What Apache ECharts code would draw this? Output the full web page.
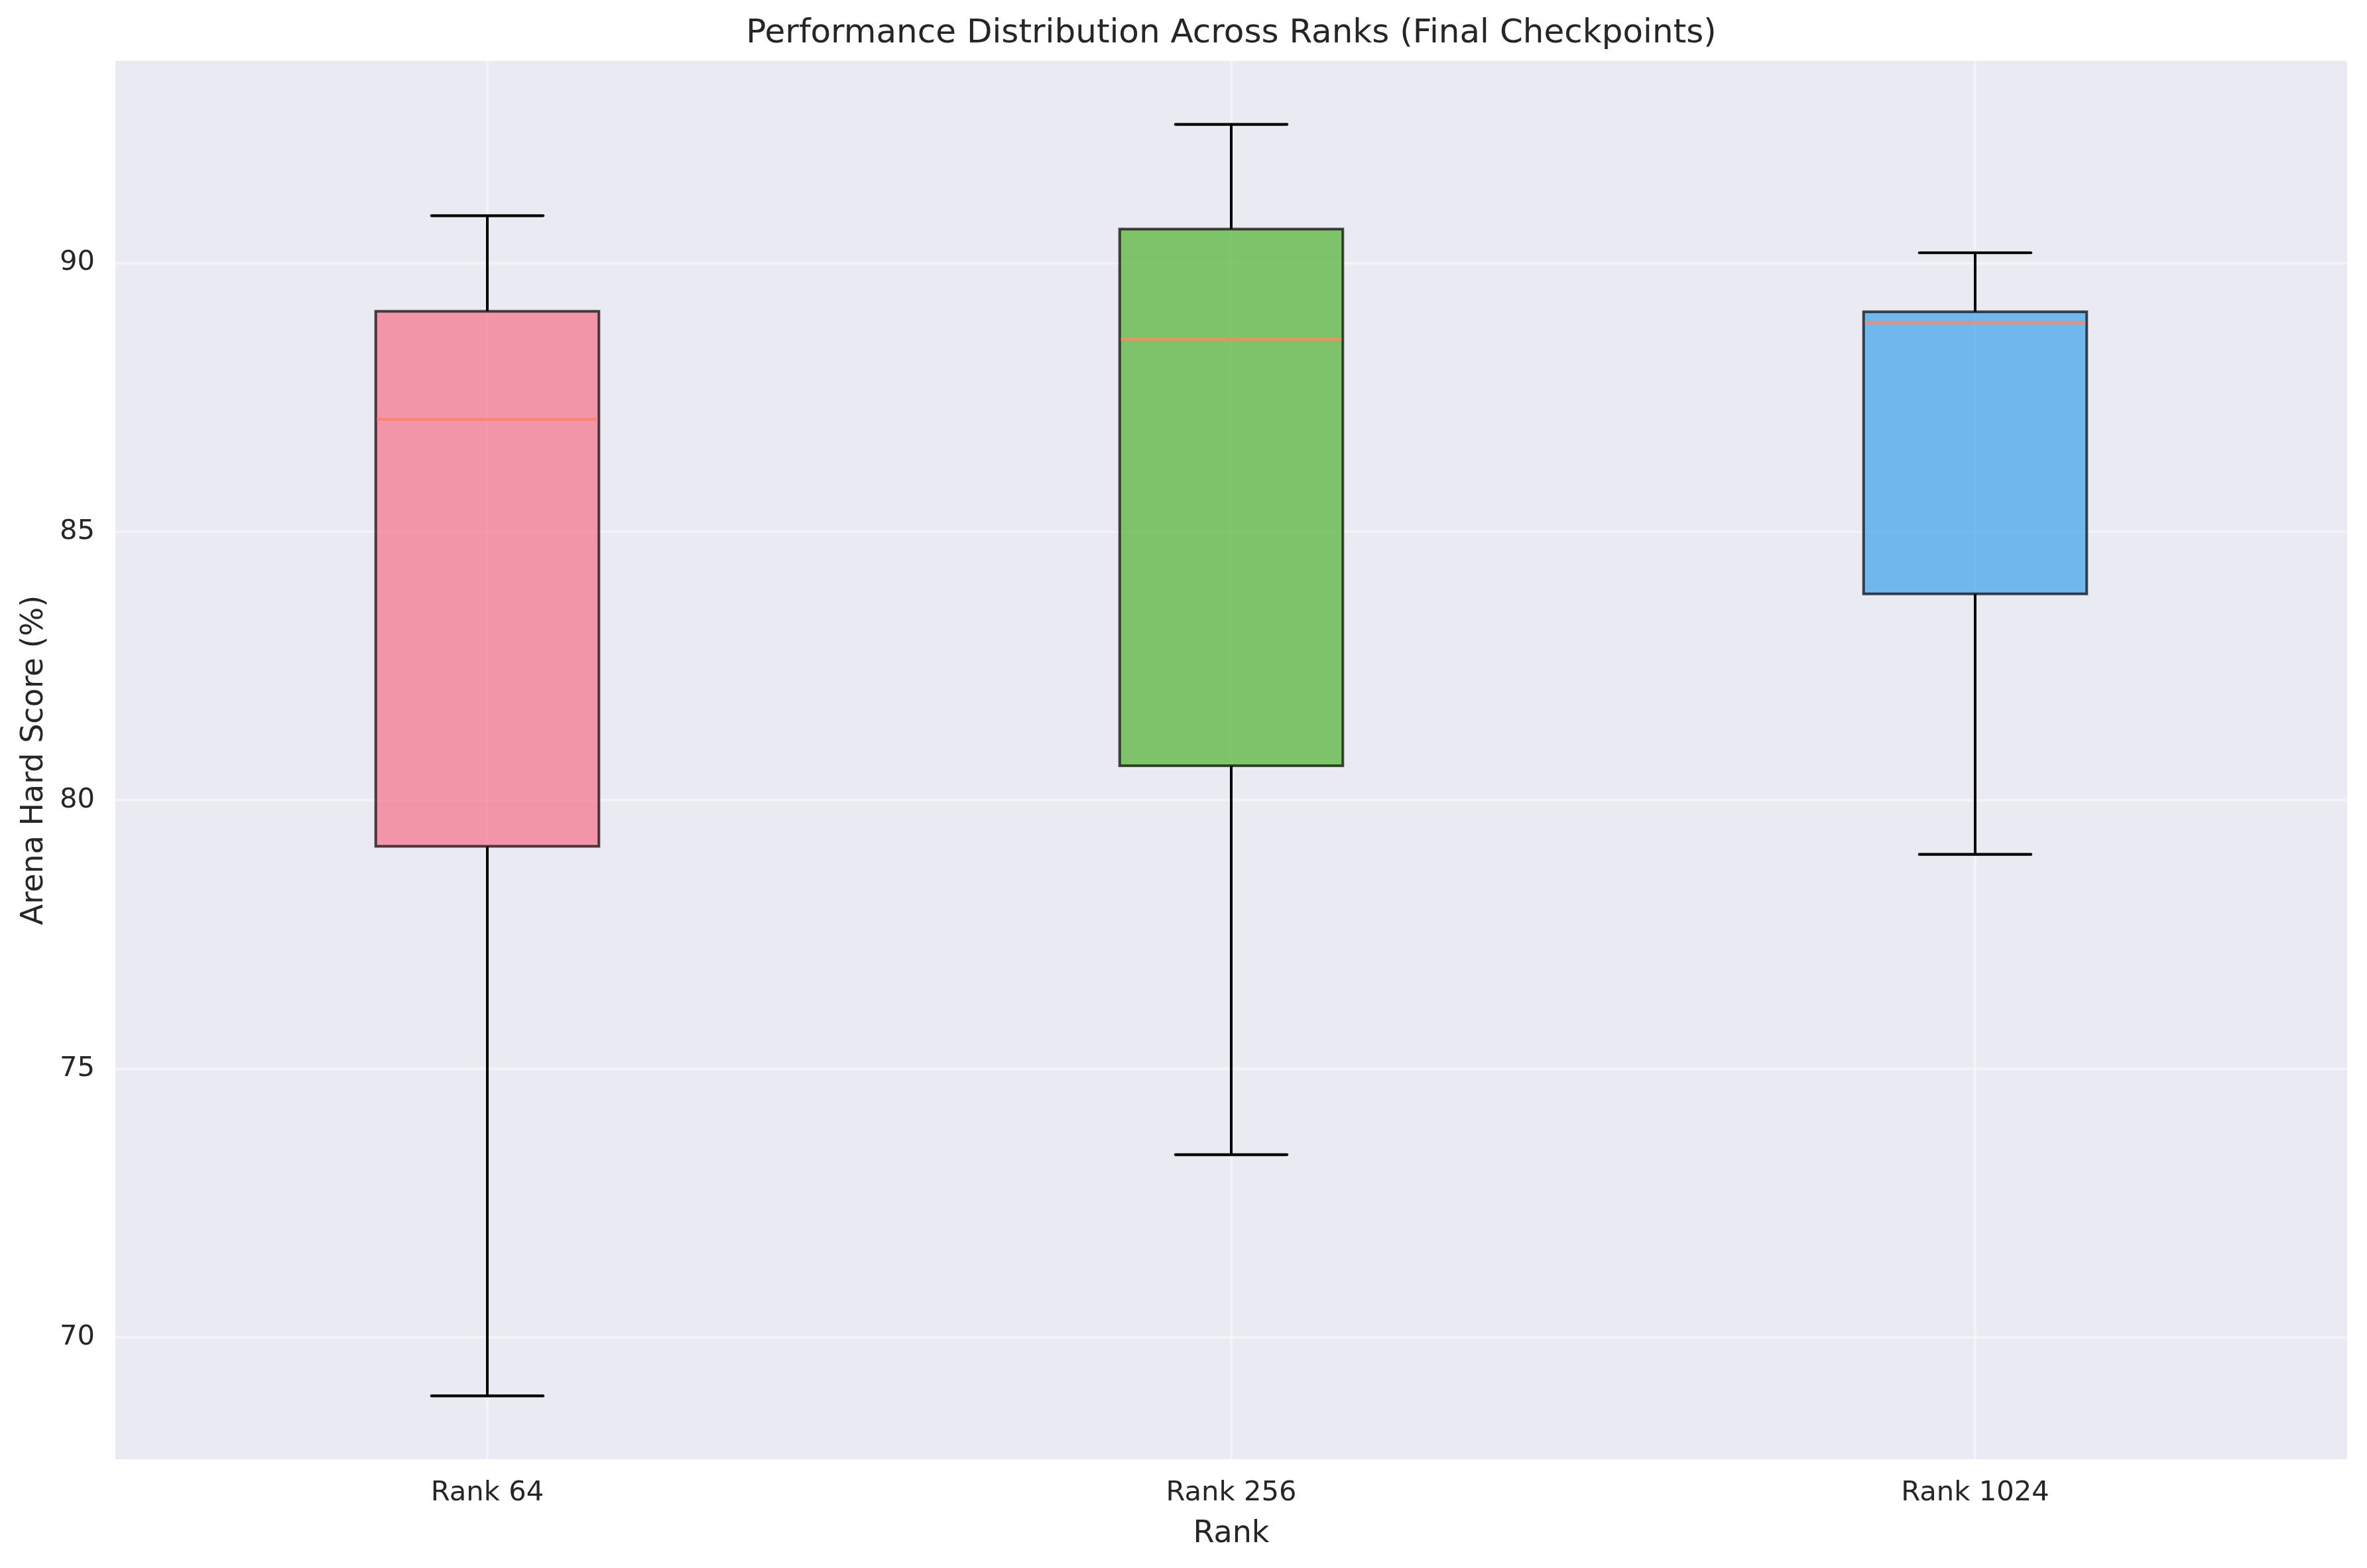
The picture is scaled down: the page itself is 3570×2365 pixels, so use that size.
<!DOCTYPE html>
<html>
<head>
<meta charset="utf-8">
<script src="https://cdn.jsdelivr.net/npm/echarts@6/dist/echarts.min.js"></script>
<style>
html,body{margin:0;padding:0;background:#fff;}
#chart{width:3570px;height:2365px;}
</style>
</head>
<body>
<div id="chart"></div>
<script>
// ---- data ----
var categories = ['Rank 64', 'Rank 256', 'Rank 1024'];
var whiskerLow  = [68.91, 73.40, 78.99];
var q1Values    = [79.14, 80.64, 83.84];
var medianVals  = [87.09, 88.59, 88.89];
var q3Values    = [89.10, 90.63, 89.09];
var whiskerHigh = [90.88, 92.58, 90.19];
var yTickValues = [70, 75, 80, 85, 90];

// ---- styles ----
var boxFills = ['rgba(247,113,137,0.7)', 'rgba(80,177,49,0.7)', 'rgba(59,163,236,0.7)'];
var FONT = 'DejaVu Sans';
var TXT = '#262626';

var seriesData = categories.map(function (c, i) {
  return [i, whiskerLow[i], q1Values[i], medianVals[i], q3Values[i], whiskerHigh[i]];
});

function renderBox(params, api) {
  var x = api.value(0);
  var pLo = api.coord([x, api.value(1)]);
  var pQ1 = api.coord([x, api.value(2)]);
  var pMd = api.coord([x, api.value(3)]);
  var pQ3 = api.coord([x, api.value(4)]);
  var pHi = api.coord([x, api.value(5)]);
  var band = api.size([1, 0])[0];
  var bw = band * 0.3;
  var cw = band * 0.15;
  var cx = pQ1[0];
  var lineStyle = { stroke: '#000', lineWidth: 4, lineCap: 'butt' };
  var capStyle = { stroke: '#000', lineWidth: 4.2, lineCap: 'round' };
  return {
    type: 'group',
    children: [
      { type: 'line', shape: { x1: cx, y1: pQ1[1], x2: cx, y2: pLo[1] }, style: lineStyle },
      { type: 'line', shape: { x1: cx, y1: pQ3[1], x2: cx, y2: pHi[1] }, style: lineStyle },
      { type: 'line', shape: { x1: cx - cw / 2, y1: pLo[1], x2: cx + cw / 2, y2: pLo[1] }, style: capStyle },
      { type: 'line', shape: { x1: cx - cw / 2, y1: pHi[1], x2: cx + cw / 2, y2: pHi[1] }, style: capStyle },
      { type: 'rect', shape: { x: cx - bw / 2, y: pQ3[1], width: bw, height: pQ1[1] - pQ3[1] },
        style: { fill: boxFills[params.dataIndex], stroke: 'rgba(0,0,0,0.7)', lineWidth: 4 } },
      { type: 'line', shape: { x1: cx - bw / 2 + 2, y1: pMd[1], x2: cx + bw / 2 - 2, y2: pMd[1] },
        style: { stroke: '#fb8860', lineWidth: 4 } }
    ]
  };
}

var chart = echarts.init(document.getElementById('chart'), null, { renderer: 'canvas' });
chart.setOption({
  backgroundColor: '#ffffff',
  animation: false,
  title: {
    text: 'Performance Distribution Across Ranks (Final Checkpoints)',
    left: 1857, top: 26, textAlign: 'center', padding: 0,
    textStyle: { fontFamily: FONT, fontSize: 50, fontWeight: 'normal', color: TXT }
  },
  grid: {
    left: 174, right: 30, top: 92, bottom: 164,
    show: true, backgroundColor: '#EAEAF2', borderWidth: 0, containLabel: false
  },
  xAxis: {
    type: 'category',
    data: categories,
    boundaryGap: true,
    name: 'Rank',
    nameLocation: 'middle',
    nameGap: 90,
    nameTextStyle: { fontFamily: FONT, fontSize: 46, color: TXT },
    axisLine: { show: false },
    axisTick: { show: false, alignWithLabel: true },
    axisLabel: { fontFamily: FONT, fontSize: 41.7, color: TXT, margin: 30 },
    splitLine: { show: true, alignWithLabel: true, lineStyle: { color: 'rgba(255,255,255,0.4)', width: 4 } }
  },
  yAxis: {
    type: 'value',
    min: 67.73,
    max: 93.76,
    name: 'Arena Hard Score (%)',
    nameLocation: 'middle',
    nameGap: 99,
    nameTextStyle: { fontFamily: FONT, fontSize: 46, color: TXT },
    axisLine: { show: false },
    axisTick: { show: false, customValues: yTickValues },
    axisLabel: { fontFamily: FONT, fontSize: 41.7, color: TXT, margin: 31, customValues: yTickValues },
    splitLine: { show: true, lineStyle: { color: 'rgba(255,255,255,0.4)', width: 4 } }
  },
  series: [{
    type: 'custom',
    renderItem: renderBox,
    data: seriesData,
    encode: { x: 0, y: [1, 2, 3, 4, 5] },
    z: 3
  }]
});
</script>
</body>
</html>
